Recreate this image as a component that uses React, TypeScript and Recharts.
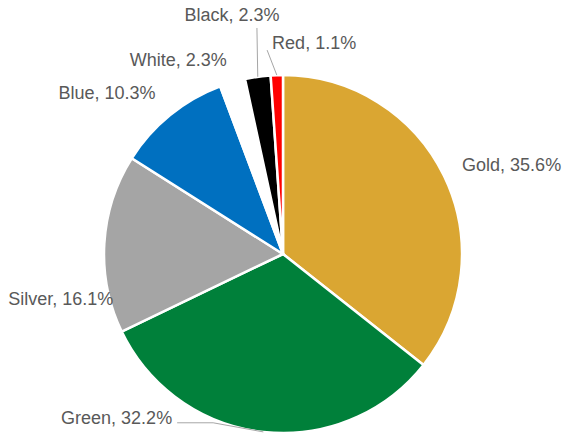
import { PieChart, Pie, Cell } from "recharts";

const categories = ["Gold", "Green", "Silver", "Blue", "White", "Black", "Red"];
const shares = [35.6, 32.2, 16.1, 10.3, 2.3, 2.3, 1.1];
const sliceColors = ["#DAA632", "#00803A", "#A5A5A5", "#0070C0", "#FFFFFF", "#000000", "#FF0000"];

const pieData = categories.map((name, i) => ({ name, value: shares[i] }));

// label placement tweaks (Excel best-fit style), relative to a point just outside the slice
type Nudge = {
  dx: number;
  dy: number;
  anchor: "start" | "middle" | "end";
  leader?: { ax: number; ay: number; elbow?: number };
};
const labelNudges: Nudge[] = [
  { dx: 0, dy: -2, anchor: "start" },
  { dx: -89, dy: -34, anchor: "end", leader: { ax: 5, ay: 5, elbow: 36 } },
  { dx: 29, dy: 57, anchor: "end" },
  { dx: -2, dy: -7, anchor: "end" },
  { dx: 0, dy: -3, anchor: "end" },
  { dx: -23, dy: -42, anchor: "middle", leader: { ax: 25, ay: 13 } },
  { dx: -4, dy: -12, anchor: "start", leader: { ax: -5, ay: 7 } },
];

const RADIAN = Math.PI / 180;

function renderLabel(props: any) {
  const { cx, cy, midAngle, outerRadius, index, name, value } = props;
  const n = labelNudges[index];
  const cos = Math.cos(-midAngle * RADIAN);
  const sin = Math.sin(-midAngle * RADIAN);
  const r = outerRadius + 20;
  const x = cx + r * cos + n.dx;
  const y = cy + r * sin + n.dy;
  let line = null;
  if (n.leader) {
    const ex = cx + outerRadius * cos;
    const ey = cy + outerRadius * sin;
    const ax = x + n.leader.ax;
    const ay = y + n.leader.ay;
    const pts = n.leader.elbow
      ? `${ex},${ey} ${ax + n.leader.elbow},${ay} ${ax},${ay}`
      : `${ex},${ey} ${ax},${ay}`;
    line = <polyline points={pts} fill="none" stroke="#A6A6A6" strokeWidth={1} />;
  }
  return (
    <g key={`lbl-${index}`}>
      {line}
      <text
        x={x}
        y={y}
        textAnchor={n.anchor}
        dominantBaseline="central"
        fill="#595959"
        fontSize={18}
        fontFamily="'Liberation Sans', Arial, sans-serif"
      >
        {`${name}, ${value}%`}
      </text>
    </g>
  );
}

export default function App() {
  return (
    <div style={{ position: "absolute", left: 0, top: 0, width: 567, height: 434, background: "#fff" }}>
      <PieChart width={567} height={434} margin={{ top: 0, right: 0, bottom: 0, left: 0 }}>
        <Pie
          data={pieData}
          dataKey="value"
          nameKey="name"
          cx={283}
          cy={254}
          outerRadius={179}
          startAngle={90}
          endAngle={-270}
          stroke="#FFFFFF"
          strokeWidth={2.5}
          label={renderLabel}
          labelLine={false}
          isAnimationActive={false}
        >
          {pieData.map((d, i) => (
            <Cell key={d.name} fill={sliceColors[i]} />
          ))}
        </Pie>
      </PieChart>
    </div>
  );
}
